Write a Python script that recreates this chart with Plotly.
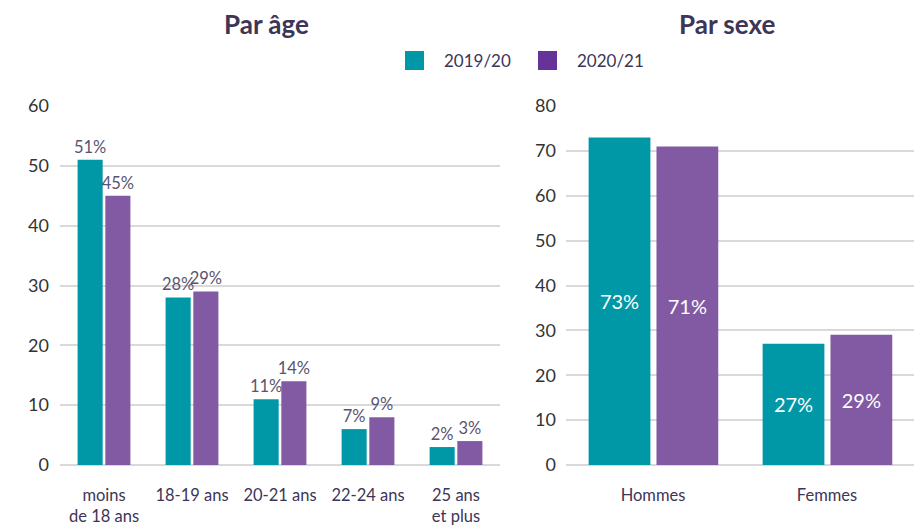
import plotly.graph_objects as go

age_categories = ["moins<br>de 18 ans", "18-19 ans", "20-21 ans", "22-24 ans", "25 ans<br>et plus"]
age_2019 = [51, 28, 11, 6, 3]
age_2020 = [45, 29, 14, 8, 4]
age_2019_labels = ["51%", "28%", "11%", "7%", "2%"]
age_2020_labels = ["45%", "29%", "14%", "9%", "3%"]

sex_categories = ["Hommes", "Femmes"]
sex_2019 = [73, 27]
sex_2020 = [71, 29]
sex_2019_labels = ["73%", "27%"]
sex_2020_labels = ["71%", "29%"]

series_names = ["2019/20", "2020/21"]

TEAL = "#0097A7"
PURPLE = "#825AA3"
PURPLE_LEG = "#663399"
DARK = "#3D3557"
FONT = "Lato"

W, H = 914, 525

fig = go.Figure()

# Left chart (age)
fig.add_trace(go.Bar(x=age_categories, y=age_2019, text=age_2019_labels, textposition="outside",
                     constraintext="none",
                     marker_color=TEAL, width=0.285, offset=-0.30, xaxis="x", yaxis="y",
                     textfont=dict(color="#5A5470", size=16.5, family=FONT), cliponaxis=False,
                     name=series_names[0], hoverinfo="skip"))
fig.add_trace(go.Bar(x=age_categories, y=age_2020, text=age_2020_labels, textposition="outside",
                     constraintext="none",
                     marker_color=PURPLE, width=0.285, offset=0.015, xaxis="x", yaxis="y",
                     textfont=dict(color="#5A5470", size=16.5, family=FONT), cliponaxis=False,
                     name=series_names[1], hoverinfo="skip"))

# Right chart (sex)
fig.add_trace(go.Bar(x=sex_categories, y=sex_2019, text=sex_2019_labels, textposition="inside",
                     insidetextanchor="middle", marker_color=TEAL, width=0.355, offset=-0.37,
                     xaxis="x2", yaxis="y2", textfont=dict(color="white", size=20, family=FONT),
                     name=series_names[0], hoverinfo="skip"))
fig.add_trace(go.Bar(x=sex_categories, y=sex_2020, text=sex_2020_labels, textposition="inside",
                     insidetextanchor="middle", marker_color=PURPLE, width=0.355, offset=0.02,
                     xaxis="x2", yaxis="y2", textfont=dict(color="white", size=20, family=FONT),
                     name=series_names[1], hoverinfo="skip"))

ydom = [(H - 465) / H, (H - 106) / H]

axis_common = dict(showgrid=True, gridcolor="#D9D9D9", gridwidth=2, zeroline=True,
                   zerolinecolor="#D9D9D9", zerolinewidth=2, showline=False, ticks="",
                   tickfont=dict(size=18, color="#333333", family=FONT), fixedrange=True,
                   automargin=False)
xcommon = dict(showgrid=False, zeroline=False, showline=False, ticks="",
               tickfont=dict(size=16.5, color=DARK, family=FONT), ticklabelstandoff=18,
               fixedrange=True, automargin=False)

# Legend drawn as shapes + labels (pixel-based positions in paper space)
leg_items = [(405, TEAL, series_names[0]), (538, PURPLE_LEG, series_names[1])]
shapes = []
annotations = []
for px, col, label in leg_items:
    shapes.append(dict(type="rect", xref="paper", yref="paper",
                       x0=px / W, x1=(px + 19) / W, y0=1 - 70 / H, y1=1 - 51 / H,
                       fillcolor=col, line=dict(width=0)))
    annotations.append(dict(text=label, x=(px + 37) / W, y=1 - 61 / H, xref="paper", yref="paper",
                            showarrow=False, xanchor="left", yanchor="middle",
                            font=dict(size=17, color=DARK, family=FONT)))

annotations += [
    dict(text="<b>Par âge</b>", x=266 / W, y=1 - 24 / H, xref="paper", yref="paper",
         showarrow=False, font=dict(size=26, color=DARK, family=FONT), xanchor="center", yanchor="middle"),
    dict(text="<b>Par sexe</b>", x=727 / W, y=1 - 24 / H, xref="paper", yref="paper",
         showarrow=False, font=dict(size=26, color=DARK, family=FONT), xanchor="center", yanchor="middle"),
]

fig.update_layout(
    width=W, height=H,
    template="none",
    margin=dict(l=0, r=0, t=0, b=0, pad=0, autoexpand=False),
    paper_bgcolor="white", plot_bgcolor="white",
    font=dict(family=FONT, color=DARK),
    barmode="group",
    showlegend=False,
    xaxis=dict(domain=[60 / W, 500 / W], anchor="y", **xcommon),
    yaxis=dict(domain=ydom, range=[0, 60], dtick=10, anchor="x", ticklabelstandoff=10, **axis_common),
    xaxis2=dict(domain=[566 / W, 1.0], anchor="y2", **xcommon),
    yaxis2=dict(domain=ydom, range=[0, 80], dtick=10, anchor="x2", ticklabelstandoff=9, **axis_common),
    shapes=shapes,
    annotations=annotations,
)

fig.write_html("out.html",
               config={"displayModeBar": False, "staticPlot": True},
               post_script="document.body.style.margin='0';document.body.style.overflow='hidden';")
